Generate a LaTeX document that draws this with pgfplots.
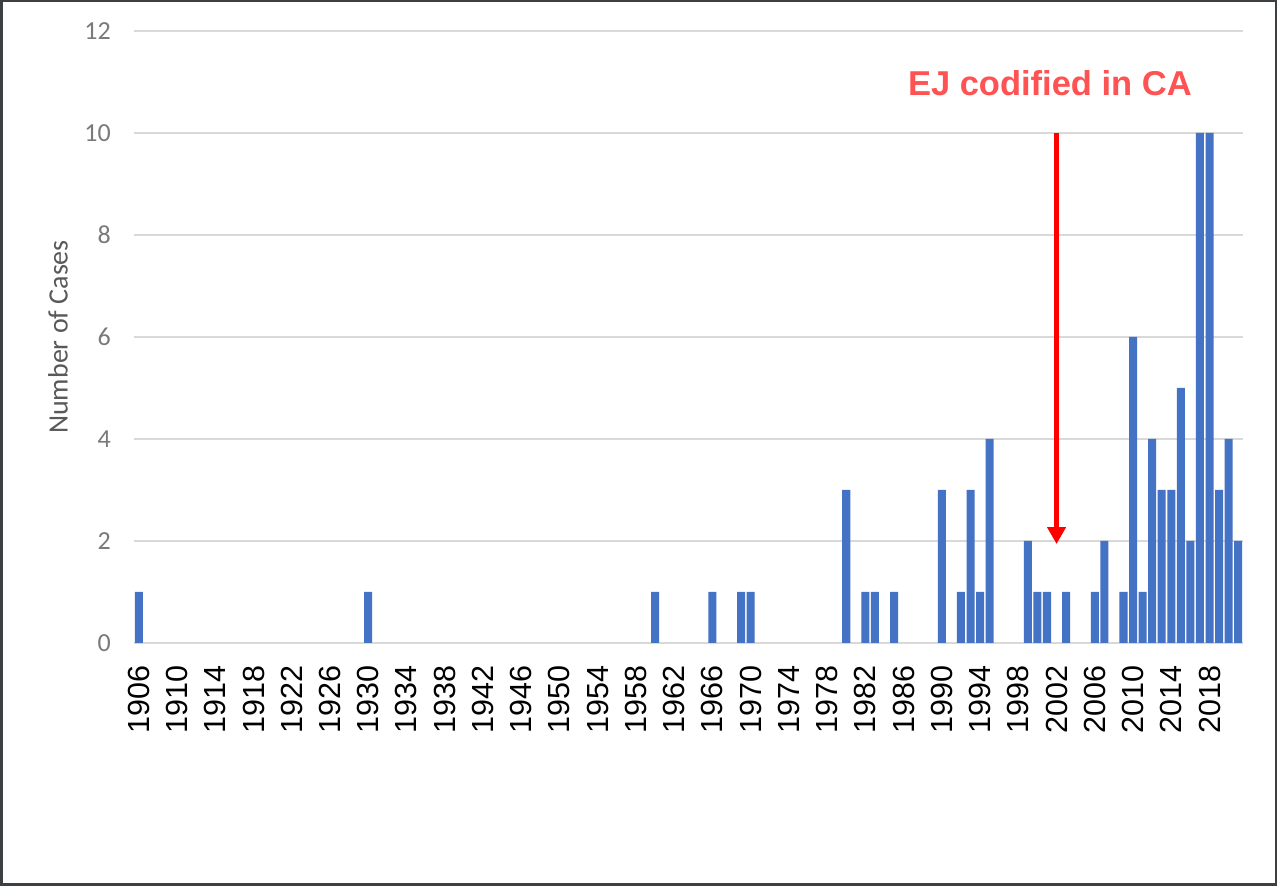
\documentclass[border=0pt]{standalone}
\usepackage{fontspec}
\setmainfont{Liberation Sans}
\newfontfamily\carlito{Carlito}
\usepackage{pgfplots}
\pgfplotsset{compat=1.18}
\usetikzlibrary{arrows.meta}
\definecolor{barblue}{HTML}{4472C4}
\definecolor{gridgray}{HTML}{D9D9D9}
\definecolor{tickgray}{HTML}{7A7A7A}
\definecolor{labelgray}{HTML}{595959}
\definecolor{annored}{HTML}{FF5252}
\definecolor{framegray}{HTML}{3C4043}
\begin{document}
\begin{tikzpicture}
\useasboundingbox (0,0) rectangle (1277pt,886pt);
\fill[white] (0,0) rectangle (1277pt,886pt);
\draw[line width=2.5pt, framegray] (1.25pt,1.25pt) rectangle (1275.75pt,884.75pt);
\begin{axis}[
  at={(134pt,243pt)}, anchor=south west,
  scale only axis, width=1109pt, height=612pt,
  xmin=1905.5, xmax=2021.5, ymin=0, ymax=12,
  ybar, bar width=0.84,
  axis line style={draw=none},
  major tick length=0pt,
  xtick={1906,1910,...,2018},
  ytick={0,2,...,12},
  ymajorgrids, grid style={line width=1.5pt, gridgray},
  /pgf/number format/assume math mode=true,
  /pgf/number format/1000 sep={},
  xticklabel shift=22pt,
  xticklabel style={rotate=90, anchor=east, inner sep=0pt, text=black, font=\fontsize{30.5}{30.5}\selectfont},
  yticklabel shift=23pt,
  yticklabel style={anchor=east, inner sep=0pt, text=tickgray, font=\carlito\fontsize{26}{26}\selectfont},
  ylabel={Number of Cases},
  ylabel style={at={(axis description cs:-0.0685,0.5)}, anchor=center, rotate=0, text=labelgray, font=\carlito\fontsize{28}{28}\selectfont},
]
\addplot[fill=barblue, draw=none] coordinates {
(1906,1) (1930,1) (1960,1) (1966,1) (1969,1) (1970,1)
(1980,3) (1982,1) (1983,1) (1985,1) (1990,3) (1992,1) (1993,3) (1994,1) (1995,4)
(1999,2) (2000,1) (2001,1) (2003,1) (2006,1) (2007,2) (2009,1) (2010,6) (2011,1)
(2012,4) (2013,3) (2014,3) (2015,5) (2016,2) (2017,10) (2018,10) (2019,3) (2020,4) (2021,2)
};
\draw[red, line width=5.5pt, -{Triangle[length=17pt,width=18pt]}] (axis cs:2002,10) -- (axis cs:2002,1.94);
\node[anchor=base, text=annored, inner sep=0pt, font=\fontsize{34.5}{35}\selectfont\bfseries] at (axis cs:2001.3,10.73) {EJ codified in CA};
\end{axis}
\end{tikzpicture}
\end{document}
